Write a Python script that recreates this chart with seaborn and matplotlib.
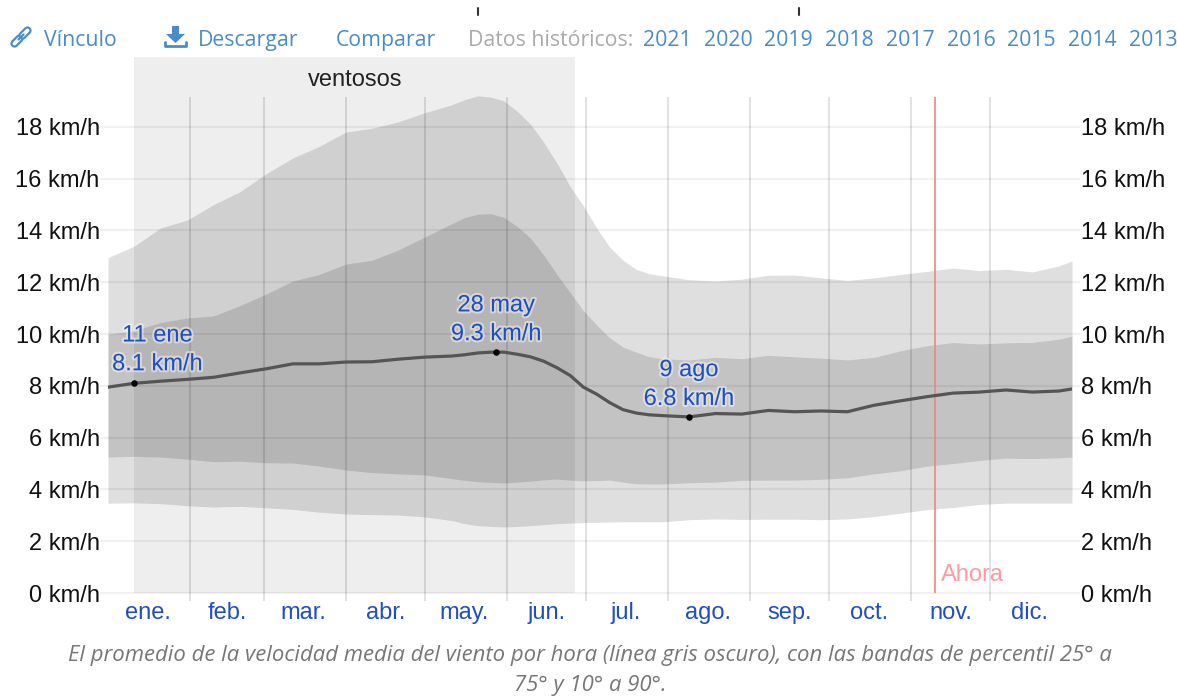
import numpy as np
import seaborn as sns
import matplotlib.pyplot as plt
import matplotlib.patheffects as pe
from matplotlib.lines import Line2D
from matplotlib.patches import Polygon
from matplotlib.transforms import Affine2D

# days of the year the values were read at (tighter where the curves bend)
days = [0, 10, 20, 30, 40, 50, 60, 70, 80, 90, 100, 110, 120, 130, 135, 140, 145, 150, 155, 160, 165, 170, 175, 180,
        185, 190, 195, 200, 205, 210, 220, 230, 240, 250, 260, 270, 280, 290, 300, 310, 320, 330, 340, 350, 360, 365]

p90 = [12.95, 13.4, 14.1, 14.4, 15.0, 15.5, 16.2, 16.8, 17.25, 17.8, 17.95, 18.2, 18.55, 18.85, 19.05, 19.2, 19.15, 19.0, 18.6, 18.1, 17.4, 16.6, 15.7, 14.95,
       14.1, 13.35, 12.85, 12.5, 12.33, 12.25, 12.1, 12.05, 12.12, 12.27, 12.28, 12.17, 12.07, 12.17, 12.3, 12.42, 12.55, 12.45, 12.5, 12.4, 12.63, 12.82]
p75 = [10.0, 10.13, 10.45, 10.62, 10.7, 11.1, 11.55, 12.05, 12.3, 12.7, 12.85, 13.25, 13.75, 14.25, 14.5, 14.63, 14.65, 14.5, 14.15, 13.7, 13.05, 12.3, 11.6, 10.9,
       10.35, 9.85, 9.5, 9.3, 9.12, 9.05, 9.0, 9.1, 9.05, 9.18, 9.12, 9.07, 9.0, 9.1, 9.35, 9.55, 9.67, 9.62, 9.66, 9.68, 9.8, 9.92]
mean = [7.95, 8.1, 8.18, 8.25, 8.33, 8.5, 8.66, 8.85, 8.85, 8.92, 8.93, 9.03, 9.11, 9.15, 9.2, 9.27, 9.3, 9.3, 9.22, 9.12, 8.95, 8.7, 8.4, 7.95,
        7.68, 7.35, 7.08, 6.95, 6.88, 6.85, 6.8, 6.93, 6.91, 7.05, 7.0, 7.03, 7.0, 7.25, 7.42, 7.58, 7.72, 7.76, 7.84, 7.76, 7.8, 7.88]
p25 = [5.25, 5.28, 5.25, 5.17, 5.07, 5.09, 5.03, 5.02, 4.9, 4.75, 4.65, 4.6, 4.56, 4.42, 4.35, 4.3, 4.27, 4.25, 4.28, 4.32, 4.37, 4.4, 4.36, 4.33,
       4.34, 4.36, 4.28, 4.22, 4.21, 4.21, 4.26, 4.28, 4.35, 4.36, 4.36, 4.39, 4.45, 4.6, 4.72, 4.9, 5.0, 5.12, 5.21, 5.19, 5.22, 5.25]
p10 = [3.47, 3.48, 3.45, 3.37, 3.32, 3.35, 3.29, 3.23, 3.12, 3.05, 3.03, 3.01, 2.94, 2.8, 2.68, 2.6, 2.57, 2.55, 2.57, 2.6, 2.64, 2.68, 2.7, 2.72,
       2.73, 2.74, 2.75, 2.75, 2.75, 2.75, 2.83, 2.86, 2.84, 2.85, 2.85, 2.83, 2.86, 2.95, 3.08, 3.22, 3.3, 3.42, 3.47, 3.47, 3.47, 3.47]

month_starts = [31, 59, 90, 120, 151, 181, 212, 243, 273, 304, 334]
month_mids = [15, 45, 74, 105, 135, 166, 196, 227, 258, 288, 319, 349]
month_labels = ["ene.", "feb.", "mar.", "abr.", "may.", "jun.", "jul.", "ago.", "sep.", "oct.", "nov.", "dic."]
y_ticks = [0, 2, 4, 6, 8, 10, 12, 14, 16, 18]
y_labels = [f"{v} km/h" for v in y_ticks]

peak_days = [10, 147, 220]
peak_values = [8.1, 9.3, 6.8]
peak_labels = ["11 ene\n8.1 km/h", "28 may\n9.3 km/h", "9 ago\n6.8 km/h"]
windy_start, windy_end = 10, 177
now_day = 313
years = ["2021", "2020", "2019", "2018", "2017", "2016", "2015", "2014", "2013"]

W, H = 1177, 696
sns.set_theme(style="white")
plt.rcParams['font.family'] = ['Liberation Sans', 'DejaVu Sans']

fig = plt.figure(figsize=(W / 100, H / 100), dpi=100)
ax = fig.add_axes([108 / W, (H - 593) / H, 964 / W, 536 / H])
ax.set_xlim(0, 365)
ax.set_ylim(0, 20.7)
sns.despine(ax=ax, left=True, bottom=True)

# windy season and grid go under the bands
ax.axvspan(windy_start, windy_end, color="#eeeeee", lw=0, zorder=0)
ax.hlines(y_ticks, -3, 368, color="black", alpha=0.055, lw=1.5, clip_on=False, zorder=1)

ax.fill_between(days, p10, p90, color="black", alpha=0.125, lw=0, zorder=2)
ax.fill_between(days, p25, p75, color="black", alpha=0.125, lw=0, zorder=3)

ax.vlines(month_starts, -0.3, 19.15, color="black", alpha=0.115, lw=1.5, clip_on=False, zorder=4)
ax.vlines(now_day, 0, 19.15, color="#f08488", lw=1.2, zorder=4)
ax.text(now_day + 2.4, 0.7, "Ahora", color="#ff9aa2", fontsize=17, va="center", ha="left")

sns.lineplot(x=days, y=mean, ax=ax, color="#555555", lw=2.3, errorbar=None, zorder=5)
sns.scatterplot(x=peak_days, y=peak_values, ax=ax, color="black", s=22, linewidth=0, zorder=6)

ax.text((windy_start + windy_end) / 2, 19.8, "ventosos", color="#222222", fontsize=17, ha="center", va="center")

halo = [pe.withStroke(linewidth=3, foreground="#ffffff", alpha=0.45)]
offsets = [(23, 8), (0, 7), (0, 7)]
for day, value, label, off in zip(peak_days, peak_values, peak_labels, offsets):
    ax.annotate(label, xy=(day, value), xytext=off, textcoords="offset pixels", ha="center", va="bottom",
                color="#1f4fbf", fontsize=17, linespacing=1.4, path_effects=halo, zorder=7)

ax.set_xticks(month_mids)
ax.set_xticklabels(month_labels, color="#1f4fbf", fontsize=17)
ax.set_yticks(y_ticks)
ax.set_yticklabels(y_labels, color="#111111", fontsize=17)
ax.tick_params(axis="both", length=0)
ax.tick_params(axis="x", pad=6.5)
ax.tick_params(axis="y", pad=6)

ax_right = ax.twinx()
ax_right.set_ylim(ax.get_ylim())
ax_right.set_yticks(y_ticks)
ax_right.set_yticklabels(y_labels, color="#111111", fontsize=17)
ax_right.tick_params(axis="y", length=0, pad=6.5)
ax_right.grid(False)
sns.despine(ax=ax_right, left=True, bottom=True, right=True)

# page furniture around the chart, placed in image pixels
page = Affine2D().scale(1, -1).translate(0, H)
LINK = "#4a8cc7"


def page_text(x, y, s, **kw):
    fig.text(x / W, 1 - y / H, s, va="baseline", **kw)


page_text(44, 46, "Vínculo", color=LINK, family="Open Sans", fontsize=15.3)
page_text(198, 46, "Descargar", color=LINK, family="Open Sans", fontsize=15.3)
page_text(336, 46, "Comparar", color=LINK, family="Open Sans", fontsize=15.3)
page_text(468, 46, "Datos históricos:", color="#aaaaaa", family="Open Sans", fontsize=15.3)
for i, year in enumerate(years):
    page_text(643 + i * 60.7, 46, year, color=LINK, family="Open Sans", fontsize=15.3)

page_text(590, 661, "El promedio de la velocidad media del viento por hora (línea gris oscuro), con las bandas de percentil 25° a",
          color="#777777", family="Open Sans", style="italic", fontsize=15.9, ha="center")
page_text(590, 691, "75° y 10° a 90°.", color="#777777", family="Open Sans", style="italic", fontsize=15.9, ha="center")

# link icon: two interlocked capsules
for (x0, y0, x1, y1) in [(14.5, 43.5, 19.5, 38.5), (22.5, 35.5, 27.5, 30.5)]:
    fig.add_artist(Line2D([x0, x1], [y0, y1], transform=page, color=LINK, lw=6.0, solid_capstyle="round"))
    fig.add_artist(Line2D([x0, x1], [y0, y1], transform=page, color="white", lw=2.8, solid_capstyle="round"))
fig.add_artist(Line2D([18.5, 23.5], [39.5, 34.5], transform=page, color=LINK, lw=1.6))

# download icon
fig.add_artist(Polygon([(172, 26), (179, 26), (179, 34), (185, 34), (175.5, 43), (166, 34), (172, 34)],
                       closed=True, transform=page, facecolor=LINK, edgecolor="none"))
fig.add_artist(Line2D([165, 165, 186, 186], [42, 46, 46, 42], transform=page, color=LINK, lw=2))

# the two small marks cut off at the top of the page
for x in [478, 799]:
    fig.add_artist(Line2D([x, x], [8, 15], transform=page, color="#333333", lw=1.5))

fig.savefig("out.png", dpi=100, facecolor="white")
